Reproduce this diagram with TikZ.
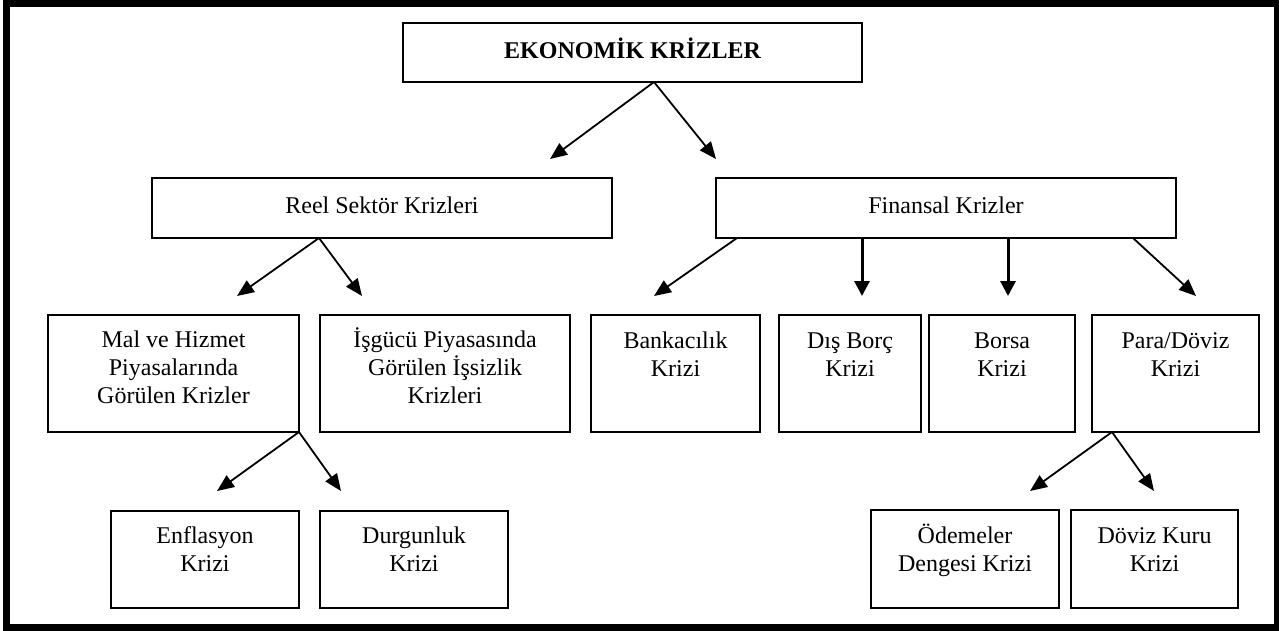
\documentclass[tikz,border=0pt]{standalone}
\usepackage{fontspec}
\setmainfont{Liberation Serif}
\usetikzlibrary{arrows.meta,calc}
\tikzset{
  box/.style={draw=black, line width=2pt, inner sep=0pt, outer sep=0pt, anchor=north west},
  txt/.style={anchor=base, align=center, inner sep=0pt, font=\fontsize{24}{28}\selectfont},
  arr/.style={line width=1.8pt, -{Triangle[length=17pt,width=14pt]}},
  varr/.style={line width=3pt, -{Triangle[length=15pt,width=15pt]}},
}
\begin{document}
\begin{tikzpicture}[x=1pt,y=-1pt]
\useasboundingbox (0,0) rectangle (1279,630);
\draw[line width=7pt] (6.5,3.5) rectangle (1277.5,627.5);
% boxes
\node[box, minimum width=459pt, minimum height=59pt] (top) at (403,23) {};
\node[box, minimum width=460pt, minimum height=60pt] (reel) at (152,178) {};
\node[box, minimum width=460pt, minimum height=60pt] (fin) at (716,178) {};
\node[box, minimum width=251pt, minimum height=117pt] (mal) at (48,315) {};
\node[box, minimum width=250pt, minimum height=117pt] (isg) at (320,315) {};
\node[box, minimum width=169pt, minimum height=117pt] (bank) at (591,315) {};
\node[box, minimum width=142pt, minimum height=117pt] (dis) at (779,315) {};
\node[box, minimum width=146pt, minimum height=117pt] (borsa) at (929,315) {};
\node[box, minimum width=167pt, minimum height=117pt] (para) at (1092,315) {};
\node[box, minimum width=188pt, minimum height=97pt] (enf) at (111,511) {};
\node[box, minimum width=188pt, minimum height=97pt] (durg) at (320,511) {};
\node[box, minimum width=188pt, minimum height=98pt] (odem) at (871,510) {};
\node[box, minimum width=167pt, minimum height=98pt] (dov) at (1071,510) {};
% texts (anchor base = baseline of the last line)
\node[txt, font=\fontsize{24}{28}\selectfont\bfseries] (top-t) at ($(top.north)+(0,35)$) {EKONOMİK KRİZLER};
\node[txt] (reel-t) at ($(reel.north)+(0,35)$) {Reel Sektör Krizleri};
\node[txt] (fin-t) at ($(fin.north)+(0,35)$) {Finansal Krizler};
\node[txt] (mal-t) at ($(mal.north)+(0,88)$) {Mal ve Hizmet\\Piyasalarında\\Görülen Krizler};
\node[txt] (isg-t) at ($(isg.north)+(0,88)$) {İşgücü Piyasasında\\Görülen İşsizlik\\Krizleri};
\node[txt] (bank-t) at ($(bank.north)+(0,61)$) {Bankacılık\\Krizi};
\node[txt] (dis-t) at ($(dis.north)+(0,61)$) {Dış Borç\\Krizi};
\node[txt] (borsa-t) at ($(borsa.north)+(0,61)$) {Borsa\\Krizi};
\node[txt] (para-t) at ($(para.north)+(0,61)$) {Para/Döviz\\Krizi};
\node[txt] (enf-t) at ($(enf.north)+(0,60)$) {Enflasyon\\Krizi};
\node[txt] (durg-t) at ($(durg.north)+(0,60)$) {Durgunluk\\Krizi};
\node[txt] (odem-t) at ($(odem.north)+(0,61)$) {Ödemeler\\Dengesi Krizi};
\node[txt] (dov-t) at ($(dov.north)+(0,61)$) {Döviz Kuru\\Krizi};
% arrow tips
\coordinate (t1) at (550,159);
\coordinate (t2) at (716,159);
\coordinate (t3) at (237,296);
\coordinate (t4) at (362,296);
\coordinate (t5) at (654,296);
\coordinate (t6) at (862,296);
\coordinate (t7) at (1008,296);
\coordinate (t8) at (1196,296);
\coordinate (t9) at (217,491);
\coordinate (t10) at (341,491);
\coordinate (t11) at (1030,491);
\coordinate (t12) at (1154,491);
% connectors
\draw[arr] ([xshift=21.5pt]top.south) -- (t1);
\draw[arr] ([xshift=21.5pt]top.south) -- (t2);
\draw[arr] ([xshift=-63pt]reel.south) -- (t3);
\draw[arr] ([xshift=-63pt]reel.south) -- (t4);
\draw[arr] ([xshift=-209pt]fin.south) -- (t5);
\draw[varr] ([xshift=-84pt]fin.south) -- (t6);
\draw[varr] ([xshift=62pt]fin.south) -- (t7);
\draw[arr] ([xshift=187pt]fin.south) -- (t8);
\draw[arr] (mal.south east) -- (t9);
\draw[arr] (mal.south east) -- (t10);
\draw[arr] ([xshift=-63.5pt]para.south) -- (t11);
\draw[arr] ([xshift=-63.5pt]para.south) -- (t12);
\end{tikzpicture}
\end{document}
